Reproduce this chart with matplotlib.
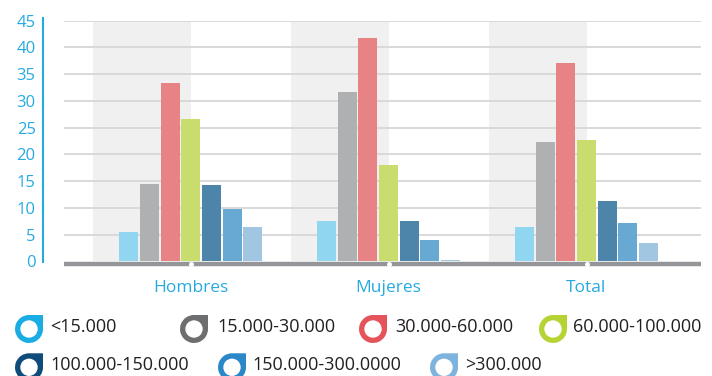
import numpy as np
import matplotlib
matplotlib.use("Agg")
import matplotlib.pyplot as plt
from matplotlib.path import Path
from matplotlib.patches import PathPatch, Circle
from matplotlib import font_manager
from matplotlib.transforms import blended_transform_factory

# ---- data -------------------------------------------------------------
categories = ["Hombres", "Mujeres", "Total"]
brackets = ["<15.000", "15.000-30.000", "30.000-60.000", "60.000-100.000",
            "100.000-150.000", "150.000-300.0000", ">300.000"]

lt15 = [5.5, 7.5, 6.4]
b15_30 = [14.5, 31.7, 22.3]
b30_60 = [33.4, 41.8, 37.1]
b60_100 = [26.6, 18.0, 22.7]
b100_150 = [14.3, 7.5, 11.3]
b150_300 = [9.8, 4.0, 7.2]
gt300 = [6.4, 0.3, 3.4]
series = [lt15, b15_30, b30_60, b60_100, b100_150, b150_300, gt300]

yticks = [0, 5, 10, 15, 20, 25, 30, 35, 40, 45]

# ---- styling ----------------------------------------------------------
bar_colors = ["#91d6f1", "#afb0b2", "#e88385", "#c8dd6e",
              "#4d84a9", "#67a9d3", "#a0c6e1"]
key_colors = ["#1aade4", "#6d6e70", "#e5545b", "#b5d334",
              "#0f4c7a", "#2a87c8", "#7db3dc"]
accent = "#27aae1"
text_dark = "#231f20"

available = {f.name for f in font_manager.fontManager.ttflist}
base_font = "Open Sans" if "Open Sans" in available else "DejaVu Sans"
if "Liberation Sans Narrow" in available:
    cat_font, cat_size = "Liberation Sans Narrow", 15
elif "DejaVu Sans Condensed" in available:
    cat_font, cat_size = "DejaVu Sans Condensed", 13
else:
    cat_font, cat_size = base_font, 12.5

plt.rcParams["font.family"] = [base_font, "DejaVu Sans"]

W, H = 712, 376
fig = plt.figure(figsize=(W / 100, H / 100), dpi=100)
ax = fig.add_axes([64.3 / W, (H - 261.3) / H, (700.7 - 64.3) / W, (261.3 - 20.7) / H])

x = np.arange(len(categories))
step, width = 0.1044, 0.096
ax.set_xlim(-0.639, 2.577)
ax.set_ylim(0, 45)

# shaded left half of each category slot
for xi in x:
    ax.axvspan(xi - 0.495, xi, ymin=0, ymax=1, color="#f0f0f0", lw=0, zorder=0)

# horizontal gridlines
for t in yticks[1:]:
    ax.axhline(t, color="#d9d9d9", lw=1.4, zorder=1)

# bars
for i, vals in enumerate(series):
    ax.bar(x + (i - 3) * step, vals, width=width, color=bar_colors[i],
           lw=0, zorder=2, label=brackets[i])

# thick baseline with dots at category centres
ax.plot([-0.639, 2.577], [-0.47, -0.47], color="#939598", lw=3.2,
        solid_capstyle="butt", clip_on=False, zorder=3)
ax.plot(x, [-0.47] * len(x), "o", ms=3.6, color="white", mec="none",
        clip_on=False, zorder=4)

# y axis: labels and detached vertical rule
ax.set_yticks(yticks)
ax.set_yticklabels([str(t) for t in yticks], color=accent, fontsize=12)
ax.tick_params(axis="y", length=0, pad=20.6)
ax.set_xticks([])
for s in ax.spines.values():
    s.set_visible(False)
tr = blended_transform_factory(fig.transFigure, ax.transData)
ax.plot([43.3 / W, 43.3 / W], [-0.3, 45.7], transform=tr, color=accent,
        lw=1.5, clip_on=False, solid_capstyle="butt")

# category names
trc = blended_transform_factory(ax.transData, fig.transFigure)
for xi, name in zip(x, categories):
    ax.text(xi, (H - 291.7) / H, name, transform=trc, ha="center",
            va="baseline", color=accent, fontsize=cat_size, family=cat_font)

# ---- key with drop-shaped ring symbols ----------------------------------
ov = fig.add_axes([0, 0, 1, 1], zorder=10)
ov.set_xlim(0, W)
ov.set_ylim(H, 0)
ov.axis("off")


def drop_ring(x0, y0, size, color):
    """Ring whose outline is round except for a square top-right corner."""
    r = size / 2
    cx, cy = x0 + r, y0 + r
    arc = Path.arc(90, 360)
    v = [(cx + r * vx, cy - r * vy) for vx, vy in arc.vertices]
    codes = list(arc.codes)
    v += [(cx + r, cy - r), (cx, cy - r)]
    codes += [Path.LINETO, Path.CLOSEPOLY]
    ov.add_patch(PathPatch(Path(v, codes), fc=color, ec="none"))
    ov.add_patch(Circle((cx, cy), r * 0.62, fc="white", ec="none"))


key_layout = [
    (15, 315, 50, 327.5), (180, 315, 217, 327.5),
    (359, 315, 395, 327.5), (539, 315, 573, 327.5),
    (15, 353.3, 50, 365), (218, 353.3, 252, 365), (430, 353.3, 465, 365),
]
for (mx, my, tx, ty), lab, col in zip(key_layout, brackets, key_colors):
    drop_ring(mx, my, 28, col)
    ov.text(tx, ty, lab, ha="left", va="center", fontsize=13, color=text_dark)

fig.savefig("out.png", dpi=100)
